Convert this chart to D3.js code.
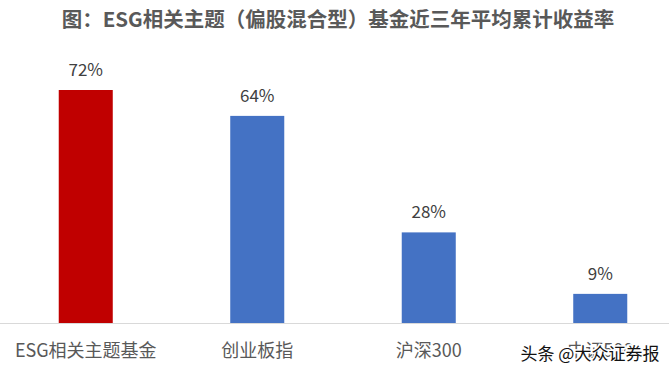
<!DOCTYPE html>
<html>
<head>
<meta charset="utf-8">
<script src="https://cdn.jsdelivr.net/npm/d3@7"></script>
<style>
  body { margin: 0; background: #fff; }
  svg { display: block; font-family: "Noto Sans CJK SC", "Microsoft YaHei", sans-serif; }
</style>
</head>
<body>
<svg id="chart" width="669" height="376"></svg>
<script>
const categories = ["ESG相关主题基金", "创业板指", "沪深300", "中证500"]
const values = [72, 64, 28, 9]
const barColors = ["#c00000", "#4472c4", "#4472c4", "#4472c4"]
const title = "图：ESG相关主题（偏股混合型）基金近三年平均累计收益率"
const watermark = "头条 @大众证券报"

const width = 669
const height = 376
const baseY = 323

const svg = d3.select("#chart")

// Title
svg.append("text")
  .attr("x", 338)
  .attr("y", 27)
  .attr("text-anchor", "middle")
  .style("font-size", "20.5px")
  .style("font-weight", "bold")
  .style("fill", "#595959")
  .text(title)

const x = d3.scaleBand()
  .domain(categories)
  .range([0, 686])
  .paddingInner(0.685)
  .paddingOuter(0.3425)

const y = d3.scaleLinear()
  .domain([0, 72])
  .range([baseY, 90])

// Bars
svg.selectAll(".bar")
  .data(values)
  .enter()
  .append("rect")
  .attr("class", "bar")
  .attr("x", (d, i) => x(categories[i]))
  .attr("width", x.bandwidth())
  .attr("y", d => y(d))
  .attr("height", d => baseY - y(d))
  .attr("fill", (d, i) => barColors[i])

// Baseline
svg.append("line")
  .attr("x1", 0)
  .attr("x2", width)
  .attr("y1", baseY + 0.5)
  .attr("y2", baseY + 0.5)
  .style("stroke", "#d9d9d9")
  .style("stroke-width", 1)

// Value labels
svg.selectAll(".value-label")
  .data(values)
  .enter()
  .append("text")
  .attr("class", "value-label")
  .attr("x", (d, i) => x(categories[i]) + x.bandwidth() / 2)
  .attr("y", d => y(d) - 14)
  .attr("text-anchor", "middle")
  .style("font-size", "17px")
  .style("fill", "#404040")
  .text(d => d + "%")

// Category labels
svg.selectAll(".cat-label")
  .data(categories)
  .enter()
  .append("text")
  .attr("class", "cat-label")
  .attr("x", d => x(d) + x.bandwidth() / 2)
  .attr("y", 357)
  .attr("text-anchor", "middle")
  .style("font-size", "18px")
  .style("fill", "#595959")
  .text(d => d)

// Watermark overlay (covers the last label, as in the source image)
svg.append("text")
  .attr("x", 590)
  .attr("y", 360)
  .attr("text-anchor", "middle")
  .style("font-size", "17px")
  .style("fill", "#111")
  .style("stroke", "#fff")
  .style("stroke-width", 3)
  .style("paint-order", "stroke")
  .text(watermark)
</script>
</body>
</html>
